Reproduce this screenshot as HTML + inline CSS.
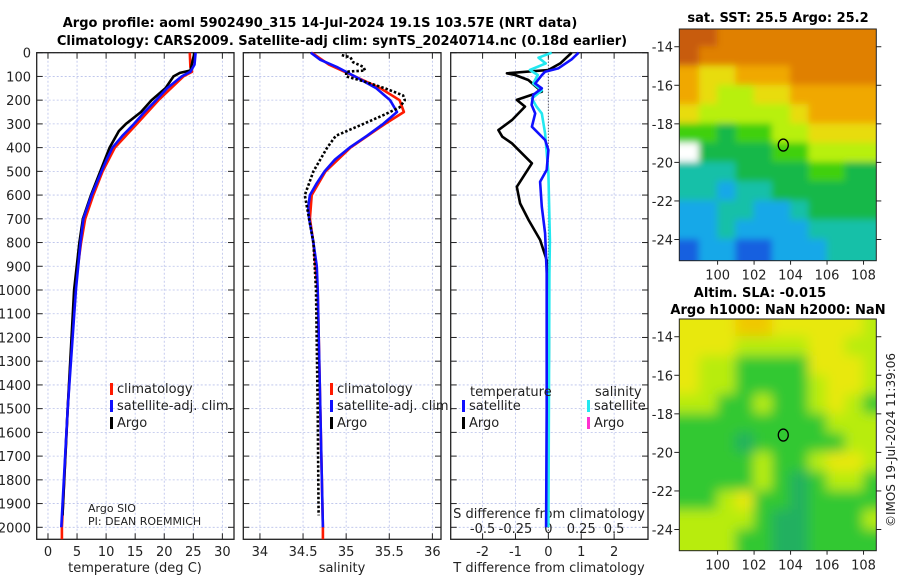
<!DOCTYPE html>
<html><head><meta charset="utf-8">
<style>
body{margin:0;background:#fff;}
svg{display:block;font-family:"DejaVu Sans","Liberation Sans",sans-serif;}
</style></head>
<body>
<svg id="c" width="900" height="580" viewBox="0 0 900 580" xmlns="http://www.w3.org/2000/svg">
<defs>
<filter id="blurSST" x="-10%" y="-10%" width="120%" height="120%"><feGaussianBlur stdDeviation="3.5"/></filter>
<filter id="blurSLA" x="-10%" y="-10%" width="120%" height="120%"><feGaussianBlur stdDeviation="6"/></filter>
</defs>
<text x="320" y="27" text-anchor="middle" font-size="13" font-weight="bold">Argo profile: aoml 5902490_315 14-Jul-2024 19.1S 103.57E (NRT data)</text>
<text x="342" y="45" text-anchor="middle" font-size="13" font-weight="bold">Climatology: CARS2009. Satellite-adj clim: synTS_20240714.nc (0.18d earlier)</text>
<text x="778" y="22" text-anchor="middle" font-size="13" font-weight="bold">sat. SST: 25.5 Argo: 25.2</text>
<text x="760" y="297" text-anchor="middle" font-size="13" font-weight="bold">Altim. SLA: -0.015</text>
<text x="778" y="314" text-anchor="middle" font-size="13" font-weight="bold">Argo h1000: NaN h2000: NaN</text>
<text x="0" y="0" transform="translate(895,440) rotate(-90)" text-anchor="middle" font-size="12" fill="#222">©IMOS 19-Jul-2024 11:39:06</text>
<g id="layer"></g>
</svg>
<script>
// ---------- data ----------
const depthTicks=[0,100,200,300,400,500,600,700,800,900,1000,1100,1200,1300,1400,1500,1600,1700,1800,1900,2000];
const tempTicks=[0,5,10,15,20,25,30];
const salTicks=[34,34.5,35,35.5,36];
const salTickLabels=["34","34.5","35","35.5","36"];
const dTTicks=[-2,-1,0,1,2];
const dSTicks=[-0.5,-0.25,0,0.25,0.5];
const dSTickLabels=["-0.5","-0.25","0","0.25","0.5"];

const tClimD=[0,60,80,100,200,300,400,500,600,700,800,1000,1500,2000,2050];
const tClimV=[24.4,24.5,24.8,23.3,19,15.3,11.5,9.4,7.8,6.4,5.7,4.6,3.4,2.4,2.4];
const tSatD=[0,50,80,100,150,200,250,300,350,400,450,500,600,700,800,1000,1500,2000];
const tSatV=[25.4,25.2,24.5,23,20.5,18.6,16.6,14.8,12.8,11.1,10.1,9.2,7.5,6.1,5.6,4.8,3.4,2.3];
const tArgoD=[0,75,85,100,150,200,250,300,330,400,500,600,700,800,1000,1500,1950];
const tArgoV=[25.2,24.5,22.7,21.6,20.2,17.8,16,13.4,12.2,10.6,9.0,7.4,6.0,5.4,4.5,3.4,2.5];

const sClimD=[0,50,100,150,200,250,300,400,500,600,700,800,1000,1500,2000,2050];
const sClimV=[34.6,34.8,35.1,35.4,35.62,35.67,35.45,35.05,34.76,34.6,34.58,34.62,34.67,34.7,34.73,34.73];
const sSatD=[0,30,60,100,150,200,250,300,350,400,450,500,550,600,650,700,800,900,1000,1500,2000];
const sSatV=[34.59,34.7,34.89,35.1,35.35,35.51,35.59,35.43,35.24,35.04,34.87,34.75,34.66,34.58,34.56,34.57,34.62,34.66,34.67,34.7,34.73];
const sArgoD=[10,20,40,60,75,80,100,120,150,180,200,230,260,300,350,400,500,600,700,800,1000,1500,1950];
const sArgoV=[34.95,35.05,35.08,35.2,35.22,35.0,35.0,35.2,35.45,35.66,35.68,35.62,35.45,35.2,34.88,34.78,34.62,34.52,34.57,34.62,34.65,34.67,34.68];

const dTArgoD=[0,45,73,87,94,115,164,178,199,227,284,326,354,382,466,565,635,705,789,874,1200,1950];
const dTArgoV=[0.71,0.36,0,-1.26,-1.01,-0.61,-0.2,-0.51,-0.96,-0.71,-1.11,-1.52,-1.4,-1.11,-0.5,-0.96,-0.86,-0.6,-0.25,-0.05,0.02,-0.03];
const dTSatD=[0,28,66,80,95,130,150,178,220,256,312,368,410,494,544,649,761,930,1500,2000];
const dTSatV=[0.92,0.71,0.3,-0.1,-0.2,-0.4,-0.2,-0.46,-0.51,-0.4,-0.5,-0.1,0,-0.05,-0.25,-0.2,-0.1,-0.05,-0.05,-0.07];
const dSSatD=[0,21,45,73,94,130,159,193,227,256,340,508,790,930,1500,2000];
const dSSatV=[0.025,-0.075,-0.02,-0.14,-0.08,-0.115,-0.05,-0.125,-0.09,-0.05,-0.025,0,0.012,0.008,0.004,0];

const lonTicks=[100,102,104,106,108];
const latTicks=[-14,-16,-18,-20,-22,-24];
const mapLons=[98.5,99.5,100.5,101.5,102.5,103.5,104.5,105.5,106.5,107.5,108.5];
const mapLats=[-13.5,-14.5,-15.5,-16.5,-17.5,-18.5,-19.5,-20.5,-21.5,-22.5,-23.5,-24.5];
const sstGrid=[
[9,9,8,8,8,8,8,8,8,8,8],
[9,8,8,8,8,8,8,8,8,8,8],
[7,6,6,7,7,7,8,8,8,8,8],
[7,6,5,5,6,6,7,7,7,7,7],
[6,5,5,5,5,5,6,7,7,7,7],
[4,4,3,4,4,5,5,6,6,6,6],
[-1,3,3,3,3,4,4,5,5,5,5],
[2,2,2,3,3,3,3,4,4,3,3],
[2,2,1,2,2,3,3,3,3,3,3],
[1,1,2,2,1,1,2,3,3,3,3],
[1,1,2,1,1,1,1,2,2,2,2],
[0,1,1,0,0,1,1,1,2,2,2]];
const slaGrid=[
[3,3,3,4,4,3,3,3,3,3,2],
[3,3,3,2,2,2,2,3,3,2,2],
[3,2,2,1,1,1,1,3,3,3,2],
[3,2,2,1,1,1,1,2,3,3,2],
[2,2,1,1,2,1,1,2,3,2,1],
[1,1,1,1,1,1,1,1,2,2,2],
[1,1,1,0,1,1,1,1,1,2,2],
[1,1,1,1,2,1,1,2,3,3,2],
[1,1,1,1,2,1,0,1,2,2,1],
[1,1,2,3,1,1,0,1,1,1,1],
[2,2,2,2,1,0,0,1,1,1,2],
[2,2,2,1,1,0,0,1,1,1,1]];
const floatLon=103.6, floatLat=-19.1;

// ---------- drawing ----------
const NS="http://www.w3.org/2000/svg";
const layer=document.getElementById('layer');
function mk(tag,attrs,parent){const e=document.createElementNS(NS,tag);for(const k in attrs)e.setAttribute(k,attrs[k]);(parent||layer).appendChild(e);return e;}
const Y0=52.7, PXM=0.2373, YB=539.3;
const yD=d=>Y0+d*PXM;
const panels=[
 {x0:36.7,x1:234,vmin:-1.94,vmax:32.0,name:'temperature-panel'},
 {x0:243.3,x1:441,vmin:33.807,vmax:36.1,name:'salinity-panel'},
 {x0:450.7,x1:648,vmin:-2.97,vmax:3.03,name:'difference-panel'}];
panels.forEach(p=>p.x=v=>p.x0+(v-p.vmin)/(p.vmax-p.vmin)*(p.x1-p.x0));

function frame(p,xt){
  const g=mk('g',{});
  
  
  depthTicks.forEach(d=>{
    const l=mk('line',{x1:p.x0,x2:p.x1,y1:yD(d),y2:yD(d),stroke:'#b8c0ea','stroke-width':0.8,'stroke-dasharray':'2,2'},g);
    
    mk('line',{x1:p.x0,x2:p.x0+6,y1:yD(d),y2:yD(d),stroke:'#222'},g);
    mk('line',{x1:p.x1-6,x2:p.x1,y1:yD(d),y2:yD(d),stroke:'#222'},g);
  });
  xt.forEach(v=>{
    const l=mk('line',{x1:p.x(v),x2:p.x(v),y1:Y0,y2:YB,stroke:'#b8c0ea','stroke-width':0.8,'stroke-dasharray':'2,2'},g);
    
    mk('line',{x1:p.x(v),x2:p.x(v),y1:Y0,y2:Y0+6,stroke:'#222'},g);
    mk('line',{x1:p.x(v),x2:p.x(v),y1:YB-6,y2:YB,stroke:'#222'},g);
  });
  const r=mk('rect',{x:p.x0,y:Y0,width:p.x1-p.x0,height:YB-Y0,fill:'none',stroke:'#222','stroke-width':1.3},g);
  
  return g;
}
function line(p,D,V,color,name,dash,scale){
  scale=scale||1;
  const pts=D.map((d,i)=>p.x(V[i]*scale).toFixed(1)+','+yD(d).toFixed(1)).join(' ');
  const e=mk('polyline',{points:pts,fill:'none',stroke:color,'stroke-width':2.6,'stroke-linejoin':'round'});
  if(dash)e.setAttribute('stroke-dasharray',dash);
  
  
}
function txt(x,y,s,o,parent){const e=mk('text',Object.assign({x:x,y:y,'font-size':13,fill:'#222'},o||{}),parent);e.textContent=s;return e;}

const P1=panels[0],P2=panels[1],P3=panels[2];
frame(P1,tempTicks);frame(P2,salTicks);frame(P3,dTTicks);
depthTicks.forEach(d=>{const t=txt(31,yD(d)+5,String(d),{'text-anchor':'end'});});
tempTicks.forEach(v=>{const t=txt(P1.x(v),556,String(v),{'text-anchor':'middle'});});
salTicks.forEach((v,i)=>{const t=txt(P2.x(v),556,salTickLabels[i],{'text-anchor':'middle'});});
dTTicks.forEach(v=>{const t=txt(P3.x(v),556,String(v),{'text-anchor':'middle'});});
dSTicks.forEach((v,i)=>{const t=txt(P3.x(v*4),533,dSTickLabels[i],{'text-anchor':'middle'});});
let t;
t=txt(135,572,'temperature (deg C)',{'text-anchor':'middle'});
t=txt(342,572,'salinity',{'text-anchor':'middle'});
t=txt(549,572,'T difference from climatology',{'text-anchor':'middle'});
t=txt(549,518,'S difference from climatology',{'text-anchor':'middle'});

const z=mk('line',{x1:P3.x(0),x2:P3.x(0),y1:Y0,y2:YB,stroke:'#333','stroke-width':1,'stroke-dasharray':'1,2'});


line(P1,tClimD,tClimV,'#ff1a00','temp-climatology-line');
line(P1,tArgoD,tArgoV,'#000','temp-argo-line');
line(P1,tSatD,tSatV,'#1010ff','temp-satellite-line');
line(P2,sClimD,sClimV,'#ff1a00','sal-climatology-line');
line(P2,sSatD,sSatV,'#1010ff','sal-satellite-line');
line(P2,sArgoD,sArgoV,'#000','sal-argo-line','2.5,2');
line(P3,dTArgoD,dTArgoV,'#000','t-diff-argo-line');
line(P3,dSSatD,dSSatV,'#22e8f0','s-diff-satellite-line',null,4);
line(P3,dTSatD,dTSatV,'#1010ff','t-diff-satellite-line');

function legEntry(x,y,color,label,name){
  const r=mk('rect',{x:x,y:y-9,width:3,height:12,fill:color});
  
  const tt=txt(x+7,y+1,label);
}
[110,330].forEach(x=>{
  legEntry(x,392,'#ff1a00','climatology','legend-climatology');
  legEntry(x,409,'#1010ff','satellite-adj. clim.','legend-satellite');
  legEntry(x,426,'#000','Argo','legend-argo');
});
t=txt(470,396,'temperature');
t=txt(595,396,'salinity');
legEntry(462,409,'#1010ff','satellite','legend-t-satellite');
legEntry(462,426,'#000','Argo','legend-t-argo');
legEntry(587,409,'#22e8f0','satellite','legend-s-satellite');
legEntry(587,426,'#ff30d0','Argo','legend-s-argo');
t=txt(88,512,'Argo SIO',{'font-size':11});
t=txt(88,525,'PI: DEAN ROEMMICH',{'font-size':11});

const sstColors=['#1560e0','#14a8e8','#12c0a8','#14b848','#40d010','#b8f010','#e8dc10','#f0a800','#e08000','#c85c10'];
const slaColors=['#20b060','#30c830','#b8ec10','#e8e810','#f0c800'];
function map(y0,y1,latTop,latBot,grid,colors,name,filt){
  const x0=679.3,x1=876.3,lonL=97.9,lonR=108.7;
  const mx=v=>x0+(v-lonL)/(lonR-lonL)*(x1-x0);
  const my=v=>y0+(latTop-v)/(latTop-latBot)*(y1-y0);
  const g=mk('g',{});
  
  
  const id='clip'+name;
  const cp=mk('clipPath',{id:id},g);mk('rect',{x:x0,y:y0,width:x1-x0,height:y1-y0},cp);
  const gc=mk('g',{'clip-path':'url(#'+id+')'},g);
  const gi=mk('g',{filter:'url(#'+filt+')'},gc);
  const cw=mx(1)-mx(0), ch=my(-1)-my(0);
  const nr=grid.length, nc=grid[0].length;
  grid.forEach((row,i)=>row.forEach((v,j)=>{
    let x=mx(mapLons[j])-cw/2-0.5, y=my(mapLats[i])-ch/2-0.5, w=cw+1, h=ch+1;
    if(j===0){x-=cw;w+=cw;} if(j===nc-1){w+=cw;}
    if(i===0){y-=ch;h+=ch;} if(i===nr-1){h+=ch;}
    const c=mk('rect',{x:x,y:y,width:w,height:h,fill:v<0?'#fff':colors[v]},gi);
    
  }));
  mk('rect',{x:x0,y:y0,width:x1-x0,height:y1-y0,fill:'none',stroke:'#222','stroke-width':1},g);
  latTicks.forEach(v=>{
    mk('line',{x1:x0-5,x2:x0,y1:my(v),y2:my(v),stroke:'#222'},g);
    mk('line',{x1:x1,x2:x1+5,y1:my(v),y2:my(v),stroke:'#222'},g);
    const tt=txt(673,my(v)+5,String(v),{'text-anchor':'end'},g);
  });
  lonTicks.forEach(v=>{
    mk('line',{x1:mx(v),x2:mx(v),y1:y1,y2:y1+4,stroke:'#222'},g);
    const tt=txt(mx(v),y1+19,String(v),{'text-anchor':'middle'},g);
  });
  const c=mk('ellipse',{cx:mx(floatLon),cy:my(floatLat),rx:5,ry:6,fill:'none',stroke:'#000','stroke-width':1.3},g);
  
}
map(29,260.7,-13.08,-25.1,sstGrid,sstColors,'sst-map','blurSST');
map(319,550.7,-13.08,-25.1,slaGrid,slaColors,'sla-map','blurSLA');
</script>
</body></html>
